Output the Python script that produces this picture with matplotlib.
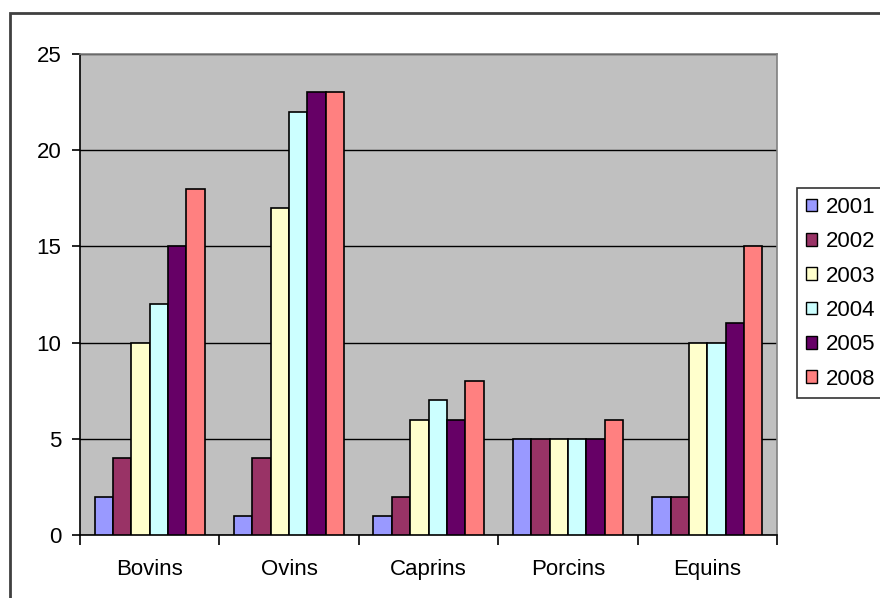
import numpy as np
import matplotlib
matplotlib.use('Agg')
import matplotlib.pyplot as plt
from matplotlib.patches import Rectangle

# data
categories = ['Bovins', 'Ovins', 'Caprins', 'Porcins', 'Equins']
years = ['2001', '2002', '2003', '2004', '2005', '2008']
v2001 = [2, 1, 1, 5, 2]
v2002 = [4, 4, 2, 5, 2]
v2003 = [10, 17, 6, 5, 10]
v2004 = [12, 22, 7, 5, 10]
v2005 = [15, 23, 6, 5, 11]
v2008 = [18, 23, 8, 6, 15]
series = [v2001, v2002, v2003, v2004, v2005, v2008]
colors = ['#9999FF', '#993366', '#FFFFCC', '#CCFFFF', '#660066', '#FF8080']

plt.rcParams['font.family'] = ['Liberation Sans', 'DejaVu Sans']
fs = 16

fig = plt.figure(figsize=(8.8, 5.98), dpi=100)
ax = fig.add_axes([80/880, 1-535/598, 697/880, 481/598])
ax.set_facecolor('#C0C0C0')

x = np.arange(len(categories))
w = 0.79 / len(series)
for i, (vals, c) in enumerate(zip(series, colors)):
    ax.bar(x - 0.395 + w*(i+0.5), vals, width=w, color=c, edgecolor='black',
           linewidth=1.2, label=years[i], zorder=3)

ax.set_xlim(-0.5, len(categories)-0.5)
ax.set_ylim(0, 25)
ax.set_yticks(range(0, 26, 5))
ax.grid(axis='y', color='black', linewidth=1, zorder=1)

ax.set_xticks(x)
ax.set_xticklabels(categories, fontsize=fs)
ax.tick_params(axis='x', length=0, pad=17)
ax.set_xticks(np.arange(-0.5, len(categories)), minor=True)
ax.tick_params(axis='x', which='minor', length=7, width=1.2, direction='out')
ax.tick_params(axis='y', length=5.5, width=1.2, labelsize=fs, pad=8)

for s in ['top', 'right']:
    ax.spines[s].set_color('#808080')
    ax.spines[s].set_linewidth(1.2)
for s in ['left', 'bottom']:
    ax.spines[s].set_color('black')
    ax.spines[s].set_linewidth(1.2)

leg = ax.legend(loc='upper left', bbox_to_anchor=(797/880, 1-188/598),
                bbox_transform=fig.transFigure, fontsize=fs, frameon=True,
                fancybox=False, edgecolor='black', handlelength=0.5,
                handleheight=0.5, handletextpad=0.4, labelspacing=0.6,
                borderpad=0.4, borderaxespad=0)
leg.get_frame().set_linewidth(1.2)
for h in leg.legend_handles:
    h.set_linewidth(1.0)

# outer chart border
fig.patches.append(Rectangle((10/880, -0.1), 1.0, 1-13/598+0.1,
                             transform=fig.transFigure, fill=False,
                             edgecolor='#404040', linewidth=2))

fig.savefig('out.png', dpi=100)
